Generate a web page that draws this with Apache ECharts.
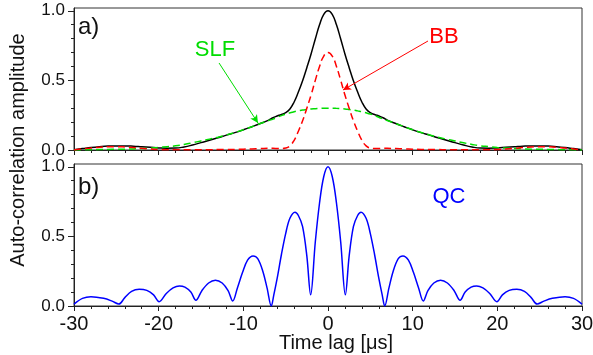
<!DOCTYPE html>
<html>
<head>
<meta charset="utf-8">
<script src="https://cdn.jsdelivr.net/npm/echarts@6/dist/echarts.min.js"></script>
<style>
  html, body { margin: 0; padding: 0; background: #fff; }
  #chart { width: 593px; height: 355px; }
</style>
</head>
<body>
<div id="chart"></div>
<script>
// time lag grid of panel a)
let lagTop = [-30, -29, -28, -27, -26, -25, -24, -23, -22, -21, -20, -19, -18, -17, -16, -15, -14, -13, -12, -11, -10, -9, -8, -7,
  -6.5, -6, -5.5, -5, -4.5, -4, -3.5, -3, -2.5, -2, -1.5, -1, -0.5, 0, 0.5, 1, 1.5, 2, 2.5, 3, 3.5, 4, 4.5, 5, 5.5, 6, 6.5,
  7, 8, 9, 10, 11, 12, 13, 14, 15, 16, 17, 18, 19, 20, 21, 22, 23, 24, 25, 26, 27, 28, 29, 30];
// total (black)
let total = [0.002, 0.010, 0.018, 0.024, 0.028, 0.029, 0.029, 0.027, 0.023, 0.019, 0.015, 0.013, 0.014, 0.022, 0.036, 0.053, 0.070, 0.088, 0.107, 0.125, 0.145, 0.167, 0.190, 0.215,
  0.232, 0.244, 0.255, 0.268, 0.295, 0.345, 0.416, 0.497, 0.591, 0.690, 0.797, 0.899, 0.975, 1.000, 0.975, 0.899, 0.797, 0.690, 0.591, 0.497, 0.416, 0.345, 0.295, 0.268, 0.255, 0.244, 0.232,
  0.215, 0.190, 0.167, 0.145, 0.125, 0.107, 0.088, 0.070, 0.053, 0.036, 0.022, 0.014, 0.013, 0.015, 0.019, 0.023, 0.027, 0.029, 0.029, 0.028, 0.024, 0.018, 0.010, 0.002];
// SLF (green dashed)
let slf = [0, 0.001, 0.002, 0.003, 0.004, 0.005, 0.006, 0.008, 0.010, 0.014, 0.018, 0.024, 0.030, 0.040, 0.052, 0.065, 0.078, 0.092, 0.108, 0.126, 0.145, 0.167, 0.190, 0.212,
  0.222, 0.235, 0.247, 0.258, 0.267, 0.275, 0.281, 0.287, 0.291, 0.295, 0.297, 0.299, 0.300, 0.300, 0.300, 0.299, 0.297, 0.295, 0.291, 0.287, 0.281, 0.275, 0.267, 0.258, 0.247, 0.235, 0.222,
  0.212, 0.190, 0.167, 0.145, 0.126, 0.108, 0.092, 0.078, 0.065, 0.052, 0.040, 0.030, 0.024, 0.018, 0.014, 0.010, 0.008, 0.006, 0.005, 0.004, 0.003, 0.002, 0.001, 0];
// BB (red dashed)
let bb = [0, 0.008, 0.014, 0.020, 0.023, 0.024, 0.022, 0.018, 0.012, 0.007, 0.003, 0.002, 0.002, 0.002, 0.002, 0.002, 0.002, 0.003, 0.003, 0.004, 0.006, 0.008, 0.010, 0.012,
  0.012, 0.011, 0.010, 0.014, 0.030, 0.070, 0.135, 0.210, 0.300, 0.395, 0.500, 0.600, 0.675, 0.700, 0.675, 0.600, 0.500, 0.395, 0.300, 0.210, 0.135, 0.070, 0.030, 0.014, 0.010, 0.011, 0.012,
  0.012, 0.010, 0.008, 0.006, 0.004, 0.003, 0.003, 0.002, 0.002, 0.002, 0.002, 0.002, 0.002, 0.003, 0.007, 0.012, 0.018, 0.022, 0.024, 0.023, 0.020, 0.014, 0.008, 0];

// panel b)
let lagQc = [-30, -29, -28, -26.5, -25.5, -24.7, -24, -23.2, -22.3, -21.4, -20.6, -19.95, -19.1, -18.3, -17.55, -16.9, -16.2, -15.6,
  -14.9, -14.1, -13.3, -12.5, -11.8, -11.25, -10.7, -10.1, -9.5, -8.85, -8.3, -7.7, -7.2, -6.7, -6.4, -6, -5.5, -5, -4.5, -3.9,
  -3.5, -3, -2.5, -2.05, -1.5, -1, -0.5, 0, 0.5, 1, 1.5, 2.05, 2.5, 3, 3.5, 3.9, 4.5, 5, 5.5, 6, 6.4, 6.7, 7.2, 7.7, 8.3, 8.85,
  9.5, 10.1, 10.7, 11.25, 11.8, 12.5, 13.3, 14.1, 14.9, 15.6, 16.2, 16.9, 17.55, 18.3, 19.1, 19.95, 20.6, 21.4, 22.3, 23.2, 24,
  24.7, 25.5, 26.5, 28, 29, 30];
let qc = [0.014, 0.055, 0.067, 0.055, 0.035, 0.014, 0.060, 0.105, 0.120, 0.112, 0.080, 0.031, 0.090, 0.130, 0.144, 0.135, 0.100, 0.041,
  0.110, 0.165, 0.185, 0.165, 0.110, 0.036, 0.130, 0.240, 0.330, 0.360, 0.340, 0.250, 0.130, 0.000, 0.080, 0.200, 0.370, 0.520, 0.630, 0.674,
  0.650, 0.570, 0.360, 0.080, 0.460, 0.740, 0.930, 1.000, 0.930, 0.740, 0.460, 0.080, 0.360, 0.570, 0.650, 0.674, 0.630, 0.520, 0.370, 0.200, 0.080, 0.000, 0.130, 0.250, 0.340, 0.360,
  0.330, 0.240, 0.130, 0.036, 0.110, 0.165, 0.185, 0.165, 0.110, 0.041, 0.100, 0.135, 0.144, 0.130, 0.090, 0.031, 0.080, 0.112, 0.120, 0.105, 0.060,
  0.014, 0.035, 0.055, 0.067, 0.055, 0.014];

// annotation arrows, [from, to] in data units
let slfArrow = [[-12.87, 0.625], [-8.27, 0.194]];
let bbArrow = [[11.81, 0.783], [1.77, 0.431]];

const FONT = '"Liberation Sans", Arial, Helvetica, sans-serif';
const INK = '#111';

let pairs = function (xs, ys) {
  return xs.map((x, i) => [x, ys[i]]);
};

let xAxisFor = function (gridIndex, showLabels) {
  return {
    type: 'value', gridIndex: gridIndex, min: -30, max: 30, interval: 10,
    axisLine: {onZero: false, lineStyle: {color: '#222', width: 1}},
    axisTick: {length: 5, lineStyle: {color: '#222'}},
    minorTick: {show: true, splitNumber: 5, length: 3, lineStyle: {color: '#222'}},
    axisLabel: {show: showLabels, fontSize: 20, margin: 8, color: INK, fontFamily: FONT},
    splitLine: {show: false}
  };
};

let yAxisFor = function (gridIndex) {
  return {
    type: 'value', gridIndex: gridIndex, min: 0, max: 1.02, interval: 0.5, position: 'left',
    axisLine: {show: true, onZero: false, lineStyle: {color: '#222', width: 1}},
    axisTick: {show: true, length: 6, customValues: [0, 0.5, 1], lineStyle: {color: '#222'}},
    minorTick: {show: true, splitNumber: 5, length: 3, lineStyle: {color: '#222'}},
    axisLabel: {customValues: [0, 0.5, 1], formatter: v => v.toFixed(1), fontSize: 17, margin: 9, color: INK, fontFamily: FONT},
    splitLine: {show: false}
  };
};

let arrowLine = function (arrow, color) {
  return {
    silent: true,
    symbol: ['none', 'arrow'],
    symbolSize: [6, 8],
    label: {show: false},
    lineStyle: {color: color, width: 1, type: 'solid'},
    emphasis: {disabled: true},
    animation: false,
    data: [[{coord: arrow[0]}, {coord: arrow[1]}]]
  };
};

let text = function (x, y, str, color, size, align, rotation) {
  return {
    type: 'text', x: x, y: y, rotation: rotation || 0, silent: true,
    style: {text: str, fill: color, font: size + 'px ' + FONT, align: align || 'center', verticalAlign: 'middle'}
  };
};

let myChart = echarts.init(document.getElementById('chart'), null, {renderer: 'canvas'});
let option = {
  backgroundColor: '#fff',
  animation: false,
  grid: [
    {left: 74, width: 508, top: 8, height: 142, show: true, borderColor: '#333', borderWidth: 1, backgroundColor: 'transparent', containLabel: false, outerBoundsMode: 'none'},
    {left: 74, width: 508, top: 164, height: 142, show: true, borderColor: '#333', borderWidth: 1, backgroundColor: 'transparent', containLabel: false, outerBoundsMode: 'none'}
  ],
  xAxis: [xAxisFor(0, false), xAxisFor(1, true)],
  yAxis: [yAxisFor(0), yAxisFor(1)],
  series: [
    {
      name: 'total', type: 'line', xAxisIndex: 0, yAxisIndex: 0, smooth: 0.5, showSymbol: false,
      lineStyle: {color: '#000', width: 1.5}, data: pairs(lagTop, total)
    },
    {
      name: 'SLF', type: 'line', xAxisIndex: 0, yAxisIndex: 0, smooth: 0.5, showSymbol: false,
      lineStyle: {color: '#00dd00', width: 1.5, type: [7, 4]}, data: pairs(lagTop, slf),
      markLine: arrowLine(slfArrow, '#00dd00')
    },
    {
      name: 'BB', type: 'line', xAxisIndex: 0, yAxisIndex: 0, smooth: 0.5, showSymbol: false,
      lineStyle: {color: '#ff0000', width: 1.5, type: [7, 4]}, data: pairs(lagTop, bb),
      markLine: arrowLine(bbArrow, '#ff0000')
    },
    {
      name: 'QC', type: 'line', xAxisIndex: 1, yAxisIndex: 1, smooth: 0.35, showSymbol: false,
      lineStyle: {color: '#0000ff', width: 1.5}, data: pairs(lagQc, qc)
    }
  ],
  graphic: [
    text(18, 150, 'Auto-correlation amplitude', INK, 20, 'center', Math.PI / 2),
    text(336, 343, 'Time lag [\u03bcs]', INK, 20, 'center'),
    text(78, 27, 'a)', INK, 24, 'left'),
    text(78, 187, 'b)', INK, 24, 'left'),
    text(215, 50, 'SLF', '#00dd00', 22, 'center'),
    text(444, 37, 'BB', '#ff0000', 22, 'center'),
    text(449, 197, 'QC', '#0000ff', 22, 'center')
  ]
};
myChart.setOption(option);
</script>
</body>
</html>
